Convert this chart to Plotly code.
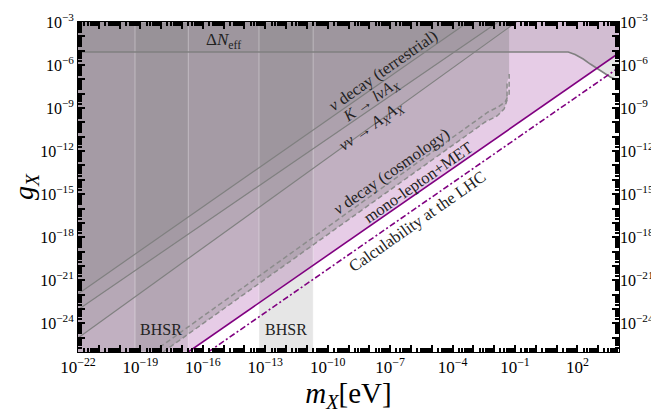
import plotly.graph_objects as go

# ---------------- data ----------------
m_axis = [1e-22, 1e4]          # x extent (eV)
g_axis = [1e-26, 1e-3]         # y extent

# mono-lepton+MET (solid purple) and calculability (dash-dot purple)
mono_m = [10**-16.70, 1e4]
mono_g = [1e-26, 10**-5.16]
calc_m = [10**-15.74, 1e4]
calc_g = [1e-26, 10**-6.17]

# gray solid bounds
terr_m = [1e-22, 10**-3.25]
terr_g = [10**-21.95, 1e-3]
kaon_m = [1e-22, 10**-1.81]
kaon_g = [10**-23.05, 1e-3]
nunu_m = [1e-22, 10**-0.93]
nunu_g = [10**-25.02, 1e-3]

# nu decay (cosmology) dashed bounds
cosmo_up_m = [10**-18.39, 10**-9.40, 10**-2.29, 10**-1.81, 10**-1.47, 10**-1.28, 10**-1.28]
cosmo_up_g = [1e-26, 10**-16.66, 10**-9.27, 10**-8.92, 10**-8.57, 10**-8.02, 10**-6.62]
cosmo_lo_m = [10**-17.91, 10**-9.40, 10**-2.43, 10**-1.86, 10**-1.52, 10**-1.38, 10**-1.38]
cosmo_lo_g = [1e-26, 10**-17.22, 10**-9.97, 10**-9.55, 10**-9.06, 10**-8.44, 10**-7.25]
cosmo_edge_m = 10**-1.28

# Delta N_eff bound
dneff_m = [1e-22, 10**0.60, 10**1.08, 10**1.56, 10**1.89, 10**2.28, 10**2.62, 10**3.10, 10**3.58, 1e4]
dneff_g = [10**-5.09, 10**-5.09, 10**-5.04, 10**-5.09, 10**-5.26, 10**-5.58, 10**-5.93, 10**-6.41, 10**-6.83, 10**-7.11]

# black hole superradiance mass windows
bhsr_lo = [5.5e-20, 5.0e-14]
bhsr_hi = [2.0e-17, 2.0e-11]

# ticks
x_major = [10.0**k for k in range(-22, 5)]
x_labels = ["10<sup>−22</sup>", "10<sup>−19</sup>", "10<sup>−16</sup>", "10<sup>−13</sup>",
            "10<sup>−10</sup>", "10<sup>−7</sup>", "10<sup>−4</sup>", "10<sup>−1</sup>", "10<sup>2</sup>"]
y_major = [10.0**k for k in range(-26, -2)]
y_labels = ["10<sup>−24</sup>", "10<sup>−21</sup>", "10<sup>−18</sup>", "10<sup>−15</sup>",
            "10<sup>−12</sup>", "10<sup>−9</sup>", "10<sup>−6</sup>", "10<sup>−3</sup>"]

# ---------------- styles ----------------
PURPLE = "rgb(128,0,128)"
GRAY = "rgb(128,128,128)"
FONT = "Liberation Serif"

fig = go.Figure()

def poly(xs, ys, color, line=None):
    fig.add_trace(go.Scatter(x=xs, y=ys, mode="lines", fill="toself", fillcolor=color,
                             line=line or dict(width=0), hoverinfo="skip", showlegend=False))

# pink region above mono-lepton line
poly(mono_m + [m_axis[1], m_axis[0], m_axis[0]],
     mono_g + [g_axis[1], g_axis[1], g_axis[0]], "rgba(128,0,128,0.2)")
# cosmology region
poly(cosmo_lo_m + [cosmo_edge_m, cosmo_edge_m, m_axis[0], m_axis[0]],
     cosmo_lo_g + [cosmo_up_g[-1], g_axis[1], g_axis[1], g_axis[0]], "rgba(128,128,128,0.36)")
# gray line regions
for lm, lg in [(nunu_m, nunu_g), (kaon_m, kaon_g), (terr_m, terr_g)]:
    poly(lm + [m_axis[0]], lg + [g_axis[1]], "rgba(128,128,128,0.17)")
# Delta N_eff
poly(dneff_m + [m_axis[1], m_axis[0]], dneff_g + [g_axis[1], g_axis[1]], "rgba(128,128,128,0.2)")
# BHSR bands
for a, b in zip(bhsr_lo, bhsr_hi):
    poly([a, b, b, a, a], [g_axis[0], g_axis[0], g_axis[1], g_axis[1], g_axis[0]],
         "rgba(128,128,128,0.2)", line=dict(width=1, color="rgba(255,255,255,0.35)"))

def curve(xs, ys, color, width, dash="solid"):
    fig.add_trace(go.Scatter(x=xs, y=ys, mode="lines", line=dict(color=color, width=width, dash=dash),
                             hoverinfo="skip", showlegend=False))

for lm, lg in [(terr_m, terr_g), (kaon_m, kaon_g), (nunu_m, nunu_g)]:
    curve(lm, lg, GRAY, 1.2)
curve(dneff_m, dneff_g, GRAY, 1.6)
curve(cosmo_up_m, cosmo_up_g, "rgb(140,140,140)", 1.5, "5px,3px")
curve(cosmo_lo_m, cosmo_lo_g, "rgb(140,140,140)", 1.5, "5px,3px")
curve(mono_m, mono_g, PURPLE, 1.6)
curve(calc_m, calc_g, PURPLE, 1.6, "6px,2.5px,2px,2.5px")

# invisible traces so the extra tick/label axes are drawn
for xa, ya in [("x", "y2"), ("x2", "y"), ("x", "y3")]:
    fig.add_trace(go.Scatter(x=mono_m, y=mono_g, xaxis=xa, yaxis=ya, mode="lines", opacity=0,
                             line=dict(width=0), hoverinfo="skip", showlegend=False))

# ---------------- annotations ----------------
ann = [
    ("Δ<i>N</i><sub>eff</sub>", -15.03, -4.32, 0, 17),
    ("<i>ν</i> decay (terrestrial)", -7.34, -6.40, -35, 16.5),
    ("<i>K</i> → <i>lνA</i><sub><i>X</i></sub>", -7.91, -8.47, -35, 16),
    ("<i>νν</i> → <i>A</i><sub><i>X</i></sub><i>A</i><sub><i>X</i></sub>", -7.91, -10.26, -35, 16.5),
    ("<i>ν</i> decay (cosmology)", -6.95, -13.45, -35, 16.5),
    ("mono-lepton+MET", -5.65, -14.18, -35, 16.5),
    ("Calculability at the LHC", -5.70, -16.90, -35, 16.5),
    ("BHSR", -18.01, -24.46, 0, 16),
    ("BHSR", -12.0, -24.46, 0, 16),
]
for txt, ax_, ay_, ang, sz in ann:
    fig.add_annotation(x=ax_, y=ay_, xref="x", yref="y", text=txt, showarrow=False,
                       textangle=ang, font=dict(family=FONT, size=sz, color="#222"))

minor_x = [d * 10.0**k for k in range(-22, 4) for d in range(2, 10)]
minor_y = [d * 10.0**k for k in range(-26, -3) for d in range(2, 10)]
x_text = [x_labels[i // 3] if i % 3 == 0 else "" for i in range(len(x_major))]
y_text = [y_labels[(i - 2) // 3] if i >= 2 and (i - 2) % 3 == 0 else "" for i in range(len(y_major))]

TW = 1.5
fig.update_layout(
    # the page body offsets the figure 8px to the right, so width/left margin compensate
    width=651, height=413,
    margin=dict(l=70, r=40, t=14, b=69, autoexpand=False),
    plot_bgcolor="white", paper_bgcolor="white",
    font=dict(family=FONT, size=16, color="black"),
    xaxis=dict(type="log", range=[-22, 4], showgrid=False, zeroline=False,
               showline=True, linecolor="black", linewidth=1,
               mirror="ticks", ticks="inside", ticklen=7, tickwidth=TW, tickcolor="black",
               tickmode="array", tickvals=x_major, ticktext=x_text,
               tickfont=dict(family=FONT, size=17),
               title=dict(text="<i>m</i><sub><i>X</i></sub>[eV]", font=dict(family=FONT, size=29), standoff=0)),
    xaxis2=dict(type="log", range=[-22, 4], overlaying="x", anchor="y", side="bottom",
                showgrid=False, zeroline=False, showline=False, mirror="ticks",
                ticks="inside", ticklen=4, tickwidth=TW, tickcolor="black",
                tickmode="array", tickvals=minor_x, showticklabels=False),
    yaxis=dict(type="log", range=[-26, -3], showgrid=False, zeroline=False,
               showline=True, linecolor="black", linewidth=1,
               mirror="ticks", ticks="inside", ticklen=7, tickwidth=TW, tickcolor="black",
               tickmode="array", tickvals=y_major, ticktext=y_text,
               tickfont=dict(family=FONT, size=16),
               title=dict(text="<i>g</i><sub><i>X</i></sub>", font=dict(family=FONT, size=28), standoff=22)),
    yaxis2=dict(type="log", range=[-26, -3], overlaying="y", side="right", anchor="x",
                showgrid=False, zeroline=False, showline=False, ticks="",
                tickmode="array", tickvals=y_major, ticktext=y_text,
                tickfont=dict(family=FONT, size=16)),
    yaxis3=dict(type="log", range=[-26, -3], overlaying="y", side="left", anchor="x",
                showgrid=False, zeroline=False, showline=False, mirror="ticks",
                ticks="inside", ticklen=4, tickwidth=TW, tickcolor="black",
                tickmode="array", tickvals=minor_y, showticklabels=False),
)

fig.write_html("out.html")
